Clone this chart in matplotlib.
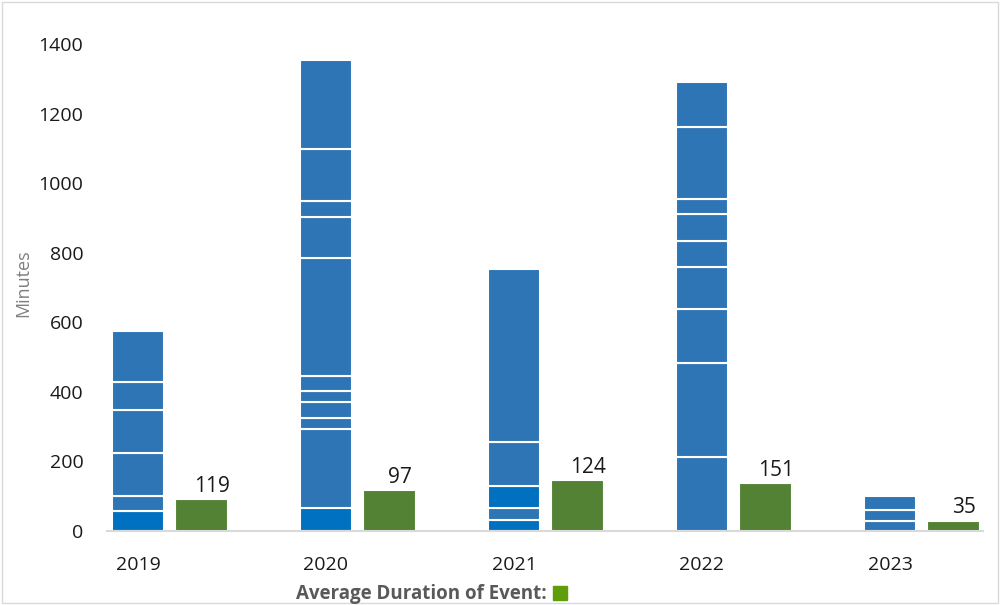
import numpy as np
import matplotlib.pyplot as plt
from matplotlib.patches import Rectangle

years = ["2019", "2020", "2021", "2022", "2023"]

# minutes per individual event, stacked bottom to top
events_2019 = [58, 42, 124, 123, 81, 148]
events_2020 = [65, 229, 32, 46, 31, 43, 338, 119, 45, 150, 256]
events_2021 = [32, 33, 65, 125, 497]
events_2022 = [214, 268, 157, 121, 74, 77, 43, 206, 132]
events_2023 = [28, 31, 42]
events = [events_2019, events_2020, events_2021, events_2022, events_2023]

# which stacked events are shown in the brighter blue
highlight = [[0], [0], [0, 2], [], []]

avg_bar = [91, 118, 146, 137, 29]
avg_label = [119, 97, 124, 151, 35]

BLUE = "#2E75B6"
BLUE_HI = "#0070C0"
GREEN = "#548235"

plt.rcParams["font.family"] = ["Open Sans", "DejaVu Sans"]

fig = plt.figure(figsize=(10, 6.05), dpi=100)
ax = fig.add_axes([0.107, 1 - 531 / 605, 0.876, (531 - 44) / 605])

x = np.arange(len(years))
w = 0.28
off = 0.335

for i, segs in enumerate(events):
    bottom = 0
    for j, v in enumerate(segs):
        c = BLUE_HI if j in highlight[i] else BLUE
        ax.bar(x[i], v, w, bottom=bottom, color=c, edgecolor="white", linewidth=1.5)
        bottom += v

ax.bar(x + off, avg_bar, w, color=GREEN, edgecolor="white", linewidth=0.8)
for xi, h, lab in zip(x + off, avg_bar, avg_label):
    ax.text(xi + 0.06, h + 7, str(lab), ha="center", va="bottom", fontsize=15, color="#1a1a1a")

ax.set_xlim(-0.165, 4.495)
ax.set_ylim(0, 1400)
ax.set_yticks(range(0, 1401, 200))
ax.set_xticks(x)
ax.set_xticklabels(years)
ax.tick_params(axis="both", length=0, labelsize=14, colors="#1a1a1a")
ax.tick_params(axis="x", pad=18)
ax.tick_params(axis="y", pad=17)
for s in ["top", "right", "left"]:
    ax.spines[s].set_visible(False)
ax.spines["bottom"].set_color("#d9d9d9")
ax.spines["bottom"].set_linewidth(1.5)
ax.set_ylabel("Minutes", fontsize=13, color="#7f7f7f")
ax.yaxis.set_label_coords(-0.0856, 0.509)

fig.text(0.547, 1 - 594 / 605, "Average Duration of Event:", ha="right", va="center",
         fontsize=13.5, fontweight="bold", color="#595959")
fig.patches.append(Rectangle((0.553, 1 - 600 / 605), 0.014, 14 / 605,
                             transform=fig.transFigure, color="#5E9E0A"))

# chart-area frame
fig.patches.append(Rectangle((0.002, 0.003), 0.996, 0.994, transform=fig.transFigure,
                             fill=False, edgecolor="#d9d9d9", linewidth=1))

fig.savefig("out.png", dpi=100)
